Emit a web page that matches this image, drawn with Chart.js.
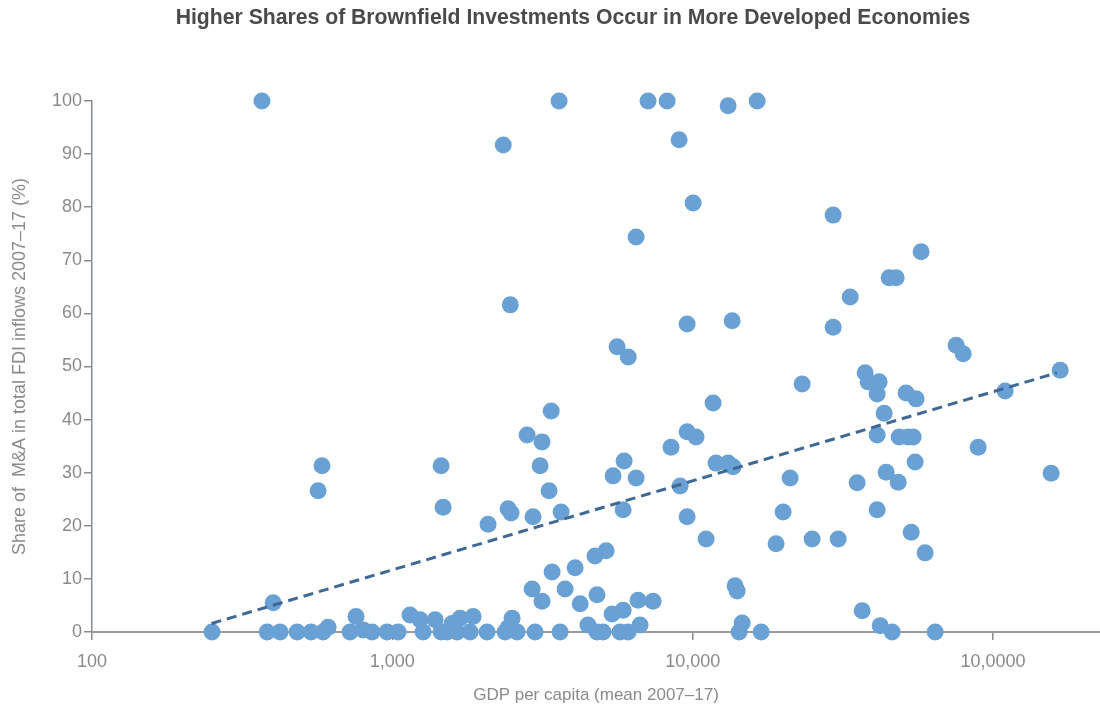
<!DOCTYPE html>
<html>
<head>
<meta charset="utf-8">
<title>Brownfield investments</title>
<script src="https://cdn.jsdelivr.net/npm/chart.js@4/dist/chart.umd.min.js"></script>
<style>
    html, body { margin: 0; padding: 0; background: #fff; }
    canvas { display: block; }
</style>
</head>
<body>
<canvas id="grafico" width="1100" height="716"></canvas>
<script>
// GDP per capita (mean 2007-17) of each economy
const gdpPerCapita = [
    368, 3590, 7100, 8220, 13120, 16390,
    9010, 2340, 10030, 29350, 6480, 57600, 45080, 47570, 33440, 2470, 9580, 13530, 29350, 75360, 79520, 5600, 6100,
    167300, 23140, 37510, 38380, 41760, 41120, 51350, 55440, 109700, 11690, 43390, 3380,
    9580, 10260, 8470, 41120, 48680, 52160, 54200, 89200, 2810, 3150,
    11960, 13120, 13630, 55020, 5910, 583, 1453, 3104, 156100, 44060, 5430, 6480, 21100, 35270, 48310, 9080, 3325, 566,
    1476, 2428, 2485, 3646, 5865, 20000, 41120, 2940, 9580, 2083, 53390, 11080, 24980, 30500, 18950, 5150, 4730, 59400,
    4060, 3403, 2920, 3760, 13840, 14060, 4800, 3150, 4220, 6580, 7380, 401, 5390, 5865, 36660, 6680, 4480, 14610, 42090,
    757, 1145, 1237, 1388, 1681, 1857, 1580, 2504, 2428, 611, 799,
    251, 383, 423, 482, 536, 588, 723, 856, 960, 1045, 1266, 1453, 1521, 1643, 1815, 2067, 2374, 2602, 2987, 3618,
    4800, 5030, 5730, 6095, 14270, 16900, 46130, 64160
];

// share of M&A in total FDI inflows (%)
const maShare = [
    100, 100, 100, 100, 99.1, 100,
    92.7, 91.7, 80.8, 78.5, 74.4, 71.6, 66.7, 66.7, 63.1, 61.6, 58.0, 58.6, 57.4, 54.0, 52.4, 53.7, 51.8,
    49.3, 46.7, 48.8, 47.1, 47.1, 44.8, 45.0, 43.9, 45.4, 43.1, 41.2, 41.6,
    37.7, 36.7, 34.8, 37.1, 36.7, 36.7, 36.7, 34.8, 37.1, 35.8,
    31.8, 31.8, 31.1, 32.0, 32.2, 31.3, 31.3, 31.3, 29.9, 30.1, 29.4, 29.0, 29.0, 28.1, 28.2, 27.5, 26.6, 26.6,
    23.5, 23.2, 22.4, 22.6, 23.0, 22.6, 23.0, 21.7, 21.7, 20.3, 18.8, 17.5, 17.5, 17.5, 16.6, 15.3, 14.3, 14.9,
    12.1, 11.3, 8.1, 8.1, 8.7, 7.7, 7.0, 5.8, 5.3, 6.0, 5.8, 5.5, 3.4, 4.1, 4.0, 1.3, 1.3, 1.7, 1.2,
    2.9, 3.2, 2.3, 2.3, 2.6, 2.9, 1.6, 2.6, 0.8, 0.9, 0.4,
    0, 0, 0, 0, 0, 0, 0, 0, 0, 0, 0, 0, 0, 0, 0, 0, 0, 0, 0, 0,
    0, 0, 0, 0, 0, 0, 0, 0
];

// linha de tendencia (inicio e fim)
const trendX = [250, 163000];
const trendY = [1.6, 48.8];

const xTicks = [100, 1000, 10000, 100000];
const xTickLabels = ["100", "1,000", "10,000", "10,0000"];

const fonte = "'Liberation Sans', Arial, sans-serif";
const cinza = "#8a8a8a";

const pontos = gdpPerCapita.map((x, i) => ({ x: x, y: maShare[i] }));
const tendencia = trendX.map((x, i) => ({ x: x, y: trendY[i] }));

const ctx = document.getElementById("grafico").getContext("2d");
new Chart(ctx, {
    type: "scatter",
    data: {
        datasets: [
            {
                label: "Trend",
                data: tendencia,
                showLine: true,
                borderColor: "#3f6893",
                borderWidth: 3,
                borderDash: [10, 6],
                pointRadius: 0,
                fill: false,
                clip: false,
            },
            {
                label: "Economies",
                data: pontos,
                backgroundColor: "#6aa1d4",
                borderWidth: 0,
                pointRadius: 8.5,
                pointHoverRadius: 8.5,
                clip: false,
            },
        ],
    },
    options: {
        responsive: false,
        animation: false,
        events: [],
        layout: {
            autoPadding: false,
            padding: { left: 46, right: 0, top: 0, bottom: 0 },
        },
        plugins: {
            legend: { display: false },
            tooltip: { enabled: false },
            title: {
                display: true,
                text: "Higher Shares of Brownfield Investments Occur in More Developed Economies",
                color: "#4a4a4a",
                font: { family: fonte, size: 21.2, weight: "bold" },
                padding: { top: 5.5, bottom: 70 },
            },
        },
        scales: {
            x: {
                type: "logarithmic",
                min: 100,
                max: 227000,
                bounds: "data",
                afterBuildTicks: (axis) => {
                    axis.ticks = xTicks.map((v) => ({ value: v }));
                },
                afterFit: (axis) => {
                    axis.height = 84;
                },
                ticks: {
                    color: cinza,
                    font: { family: fonte, size: 18 },
                    padding: 11,
                    maxRotation: 0,
                    autoSkip: false,
                    callback: (value, index) => xTickLabels[index],
                },
                grid: {
                    display: true,
                    drawOnChartArea: false,
                    drawTicks: true,
                    tickLength: 8,
                    color: "#8c8c8c",
                    lineWidth: 1.5,
                },
                border: { display: true, color: "#9a9a9a", width: 2 },
                title: {
                    display: true,
                    text: "GDP per capita (mean 2007–17)",
                    color: cinza,
                    font: { family: fonte, size: 17 },
                    padding: { top: 0, bottom: 10 },
                },
            },
            y: {
                min: 0,
                max: 100,
                afterFit: (axis) => {
                    axis.width = 46;
                },
                ticks: {
                    stepSize: 10,
                    color: cinza,
                    font: { family: fonte, size: 18 },
                    padding: 2,
                },
                grid: {
                    display: true,
                    drawOnChartArea: false,
                    drawTicks: true,
                    tickLength: 8,
                    color: "#8c8c8c",
                    lineWidth: 1.5,
                },
                border: { display: true, color: "#848d96", width: 1.5 },
                title: {
                    display: true,
                    text: "Share of  M&A in total FDI inflows 2007–17 (%)",
                    color: cinza,
                    font: { family: fonte, size: 18 },
                    padding: { top: -37, bottom: 0 },
                },
            },
        },
    },
});
</script>
</body>
</html>
